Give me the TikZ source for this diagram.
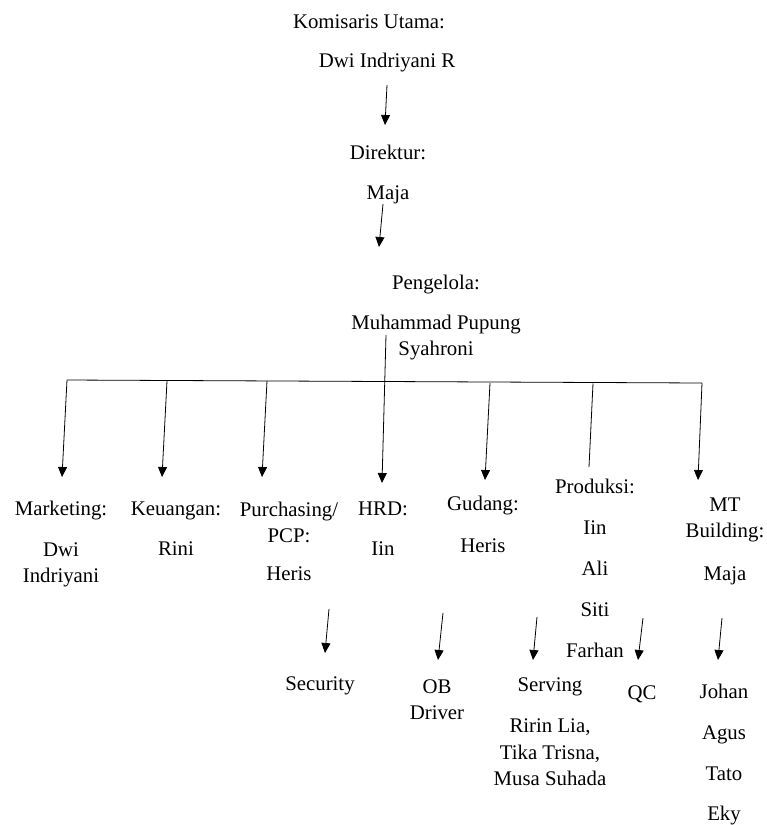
\documentclass[tikz,border=0pt]{standalone}
\usepackage{fontspec}
\setmainfont{Liberation Serif}
\usetikzlibrary{arrows.meta}

\begin{document}
\begin{tikzpicture}[x=1pt, y=-1pt,
  jabatan/.style = {align=center, inner sep=0pt, anchor=base, font=\fontsize{20.8}{26.5}\selectfont},
  panah/.style = {-{Triangle[length=10pt, width=9pt]}, line width=0.8pt},
  garis/.style = {line width=0.8pt}]

\useasboundingbox (0,0) rectangle (767,825);

% pimpinan (base = baris terakhir)
\node[jabatan] (komut) at (369,28) {Komisaris Utama:};
\node[jabatan] (komutnama) at (387,67.5) {Dwi Indriyani R};
\node[jabatan] (dir) at (388,199.5) {Direktur:\\[14pt]Maja};
\node[jabatan] (peng) at (436,355.5) {Pengelola:\\[13pt]Muhammad Pupung\\Syahroni};

% bagian
\node[jabatan] (mkt) at (61,582.5) {Marketing:\\[14pt]Dwi\\Indriyani};
\node[jabatan] (keu) at (176,555.5) {Keuangan:\\[14pt]Rini};
\node[jabatan] (pur) at (289,580.5) {Purchasing/\\PCP:\\[11.5pt]Heris};
\node[jabatan] (hrd) at (383,555.5) {HRD:\\[14pt]Iin};
\node[jabatan] (gud) at (483,552.5) {Gudang:\\[15.5pt]Heris};
\node[jabatan] (prod) at (595,657.5) {Produksi:\\[14.5pt]Iin\\[14.5pt]Ali\\[14.5pt]Siti\\[14.5pt]Farhan};
\node[jabatan] (mt) at (725,580.5) {MT\\Building:\\[16.5pt]Maja};

% staf
\node[jabatan] (sec) at (320,690.5) {Security};
\node[jabatan] (ob) at (437,719.5) {OB\\Driver};
\node[jabatan] (serv) at (550,785.5) {Serving\\[14.5pt]Ririn Lia,\\Tika Trisna,\\Musa Suhada};
\node[jabatan] (qc) at (642,699.5) {QC};
\node[jabatan] (mtstaf) at (724,820.5) {Johan\\[14.5pt]Agus\\[14pt]Tato\\[14pt]Eky};

% ujung panah
\coordinate (komut-out) at (387,85);
\coordinate (dir-in) at (385,125);
\coordinate (dir-out) at (383,204);
\coordinate (peng-in) at (379,247);
\coordinate (peng-out) at (386,335);
\coordinate (hrd-in) at (382,483);
\coordinate (bus-kiri) at (67,380);
\coordinate (bus-kanan) at (702,383);
\coordinate (keu-top) at (167,381);
\coordinate (pur-top) at (267,381);
\coordinate (gud-top) at (490,383);
\coordinate (prod-top) at (593,383.5);
\coordinate (mkt-in) at (62,477);
\coordinate (keu-in) at (162,477);
\coordinate (pur-in) at (262,477);
\coordinate (gud-in) at (485,480);
\coordinate (prod-in) at (589,467);
\coordinate (mt-in) at (698,480);
\coordinate (sec-out) at (329,609);
\coordinate (sec-in) at (325,653);
\coordinate (ob-out) at (443,613);
\coordinate (ob-in) at (438,660);
\coordinate (serv-out) at (537,617);
\coordinate (serv-in) at (533,660);
\coordinate (qc-out) at (643,618);
\coordinate (qc-in) at (638,660);
\coordinate (mtstaf-out) at (722,618);
\coordinate (mtstaf-in) at (718,660);

\draw[panah] (komut-out) -- (dir-in);
\draw[panah] (dir-out) -- (peng-in);
\draw[panah] (peng-out) -- (hrd-in);
\draw[garis] (bus-kiri) -- (bus-kanan);
\draw[panah] (bus-kiri) -- (mkt-in);
\draw[panah] (keu-top) -- (keu-in);
\draw[panah] (pur-top) -- (pur-in);
\draw[panah] (gud-top) -- (gud-in);
\draw[garis] (prod-top) -- (prod-in);
\draw[panah] (bus-kanan) -- (mt-in);
\draw[panah] (sec-out) -- (sec-in);
\draw[panah] (ob-out) -- (ob-in);
\draw[panah] (serv-out) -- (serv-in);
\draw[panah] (qc-out) -- (qc-in);
\draw[panah] (mtstaf-out) -- (mtstaf-in);

\end{tikzpicture}
\end{document}
